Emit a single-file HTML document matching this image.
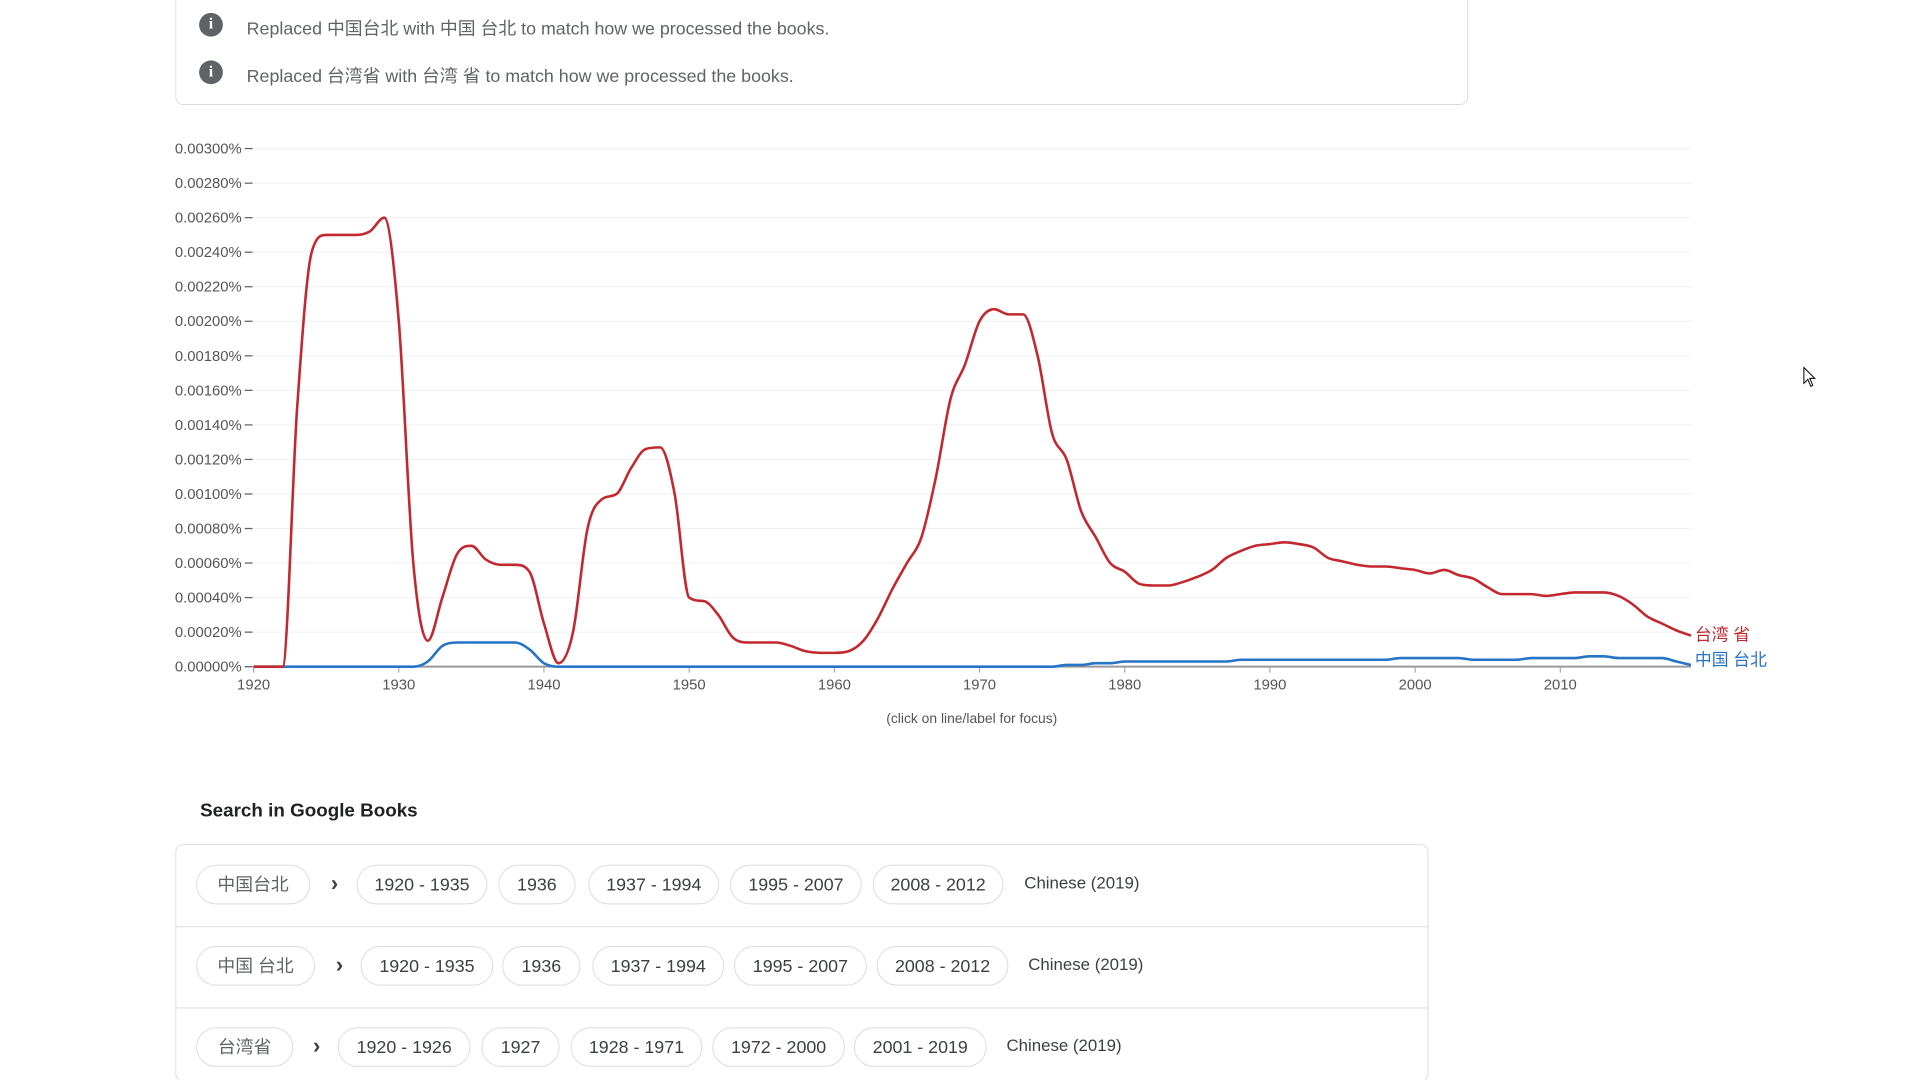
<!DOCTYPE html>
<html style="width:1920px;height:1080px;overflow:hidden"><head><meta charset="utf-8">
<style>
body{margin:0;width:1920px;height:1080px;overflow:hidden;background:#fff;font-family:"Liberation Sans","Noto Sans CJK SC",sans-serif;color:#3c4043;position:relative}
#wrap{position:absolute;left:0;top:0;width:1920px;height:1090px;overflow:hidden;transform:scale(0.9906);transform-origin:0 0}
.abs{position:absolute}
.notice{left:177px;top:-10px;width:1305px;height:116px;border:1px solid #dadce0;border-radius:8px;box-sizing:border-box}
.info{font-size:18px;color:#5f6368;white-space:nowrap}
.icon{width:24px;height:24px;border-radius:50%;background:#5f6368;color:#fff;font-weight:bold;font-size:16px;text-align:center;line-height:24px;font-family:"Liberation Serif",serif}
.table{left:177px;top:852px;width:1265px;height:240px;border:1px solid #dadce0;border-radius:8px;box-sizing:border-box}
.sep{left:178px;width:1263px;height:1px;background:#dadce0}
.pill{height:40px;border:1px solid #dadce0;border-radius:21px;box-sizing:border-box;font-size:18px;line-height:38px;text-align:center;color:#3c4043;white-space:nowrap}
.lang{font-size:17px;color:#3c4043;white-space:nowrap}
.chev{font-size:22px;color:#3c4043;font-weight:bold}
</style></head><body>
<div id="wrap">
<div class="abs notice"></div>
<div class="abs icon" style="left:201px;top:13px">i</div>
<div class="abs info" style="left:249px;top:15px">Replaced 中国台北 with 中国 台北 to match how we processed the books.</div>
<div class="abs icon" style="left:201px;top:61px">i</div>
<div class="abs info" style="left:249px;top:63px">Replaced 台湾省 with 台湾 省 to match how we processed the books.</div>

<svg id="chart" class="abs" style="left:0;top:0" width="1920" height="760"></svg>

<div class="abs" style="left:1820px;top:370px">
<svg width="14" height="22" style="position:absolute;left:0;top:0"><path d="M1 1 L1 17 L5 13 L8 20 L10 19 L7 12 L12 12 Z" fill="#fff" stroke="#000" stroke-width="1"/></svg></div>

<div class="abs" style="left:202px;top:808px;font-size:19px;font-weight:bold;color:#202124">Search in Google Books</div>
<div class="abs table"></div>
<div class="abs sep" style="top:935px"></div>
<div class="abs sep" style="top:1017px"></div>
<div id="rows"></div>
</div>

<script>
const years = [];
for (let y = 1920; y <= 2019; y++) years.push(y);
const taiwanProvince = [0,0,0,150,240,250,250,250,252,260,200,60,15,40,65,70,62,59,59,55,25,2,20,80,97,100,115,126,127,100,40,38,30,17,14,14,14,12,9,8,8,9,15,28,45,60,75,110,155,175,200,207,204,204,180,135,120,90,75,60,55,48,47,47,49,52,56,63,67,70,71,72,71,69,63,61,59,58,58,57,56,54,56,53,51,46,42,42,42,41,42,43,43,43,41,36,29,25,21,18];
const chinaTaipei = [0,0,0,0,0,0,0,0,0,0,0,0,3,12,14,14,14,14,14,10,2,0,0,0,0,0,0,0,0,0,0,0,0,0,0,0,0,0,0,0,0,0,0,0,0,0,0,0,0,0,0,0,0,0,0,0,1,1,2,2,3,3,3,3,3,3,3,3,4,4,4,4,4,4,4,4,4,4,4,5,5,5,5,5,4,4,4,4,5,5,5,5,6,6,5,5,5,5,3,1];
const yTicks = [0,20,40,60,80,100,120,140,160,180,200,220,240,260,280,300];
const xTicks = [1920,1930,1940,1950,1960,1970,1980,1990,2000,2010];
const seriesNames = ["台湾 省","中国 台北"];

const NS = "http://www.w3.org/2000/svg";
const svg = document.getElementById('chart');
const X0 = 256, X1 = 1707, Y0 = 673, Y1 = 150;
const xs = y => X0 + (y - 1920) / 99 * (X1 - X0);
const ys = v => Y0 - v / 300 * (Y0 - Y1);
function mk(tag, attrs){const e=document.createElementNS(NS,tag);for(const k in attrs)e.setAttribute(k,attrs[k]);svg.appendChild(e);return e;}

yTicks.forEach(v=>{
  const g=mk('line',{x1:X0,x2:X1,y1:ys(v),y2:ys(v),stroke:'#f0f0f0','stroke-width':1});
  
  
  const t=mk('text',{x:244,y:ys(v)+5,'text-anchor':'end','font-size':15,fill:'#555','font-family':'Liberation Sans, sans-serif'});
  t.textContent=(v/100000).toFixed(5)+'%';
  
  
  const d=mk('line',{x1:247,x2:255,y1:ys(v),y2:ys(v),stroke:'#666','stroke-width':1.3});
  
  
});
xTicks.forEach(yr=>{
  const t=mk('text',{x:xs(yr),y:696,'text-anchor':'middle','font-size':15,fill:'#555','font-family':'Liberation Sans, sans-serif'});
  t.textContent=yr;
  
  
  const d=mk('line',{x1:xs(yr),x2:xs(yr),y1:Y0,y2:Y0+6,stroke:'#999','stroke-width':1});
  
  
});
const ax=mk('line',{x1:X0,x2:X1,y1:Y0,y2:Y0,stroke:'#999','stroke-width':2});



function smoothPath(vals){
  const p=vals.map((v,i)=>[xs(years[i]),ys(v)]);
  const n=p.length, h=p[1][0]-p[0][0];
  const dl=[];for(let i=0;i<n-1;i++)dl.push((p[i+1][1]-p[i][1])/h);
  const m=new Array(n);
  m[0]=dl[0];m[n-1]=dl[n-2];
  for(let i=1;i<n-1;i++){m[i]=(dl[i-1]*dl[i]<=0)?0:(dl[i-1]+dl[i])/2;}
  for(let i=0;i<n-1;i++){
    if(dl[i]===0){m[i]=0;m[i+1]=0;continue;}
    const a=m[i]/dl[i],b=m[i+1]/dl[i],s=a*a+b*b;
    if(s>9){const t=3/Math.sqrt(s);m[i]=t*a*dl[i];m[i+1]=t*b*dl[i];}
  }
  let d='M'+p[0][0]+' '+p[0][1];
  for(let i=0;i<n-1;i++){
    d+=` C${p[i][0]+h/3} ${p[i][1]+m[i]*h/3} ${p[i+1][0]-h/3} ${p[i+1][1]-m[i+1]*h/3} ${p[i+1][0]} ${p[i+1][1]}`;
  }
  return d;
}
const blue=mk('path',{d:smoothPath(chinaTaipei),fill:'none',stroke:'#2674c6','stroke-width':2.6});


const red=mk('path',{d:smoothPath(taiwanProvince),fill:'none',stroke:'#c3282e','stroke-width':2.6});



const l1=mk('text',{x:1711,y:ys(taiwanProvince[99])+5,'font-size':17,fill:'#c3282e','font-family':'Liberation Sans, Noto Sans CJK SC, sans-serif'});
l1.textContent=seriesNames[0];


const l2=mk('text',{x:1711,y:672,'font-size':17,fill:'#2674c6','font-family':'Liberation Sans, Noto Sans CJK SC, sans-serif'});
l2.textContent=seriesNames[1];


const cap=mk('text',{x:981,y:730,'text-anchor':'middle','font-size':14,fill:'#555','font-family':'Liberation Sans, sans-serif'});
cap.textContent='(click on line/label for focus)';



const rowsData=[
 {top:873,term:['中国台北',198,115],chev:338,pills:[['1920 - 1935',360,132],['1936',503,78],['1937 - 1994',594,132],['1995 - 2007',737,133],['2008 - 2012',881,132]],lang:1034},
 {top:955,term:['中国 台北',198,120],chev:343,pills:[['1920 - 1935',364,134],['1936',507,79],['1937 - 1994',598,133],['1995 - 2007',741,134],['2008 - 2012',885,133]],lang:1038},
 {top:1037,term:['台湾省',198,98],chev:320,pills:[['1920 - 1926',341,134],['1927',486,79],['1928 - 1971',576,133],['1972 - 2000',719,134],['2001 - 2019',862,134]],lang:1016}
];
const rows=document.getElementById('rows');
rowsData.forEach(r=>{
  const t=document.createElement('div');
  t.className='abs pill';t.style.cssText=`left:${r.term[1]}px;top:${r.top}px;width:${r.term[2]}px;color:#5f6368`;
  t.textContent=r.term[0];
  
  
  rows.appendChild(t);
  const c=document.createElement('div');
  c.className='abs chev';c.style.cssText=`left:${r.chev-4}px;top:${r.top+6}px`;c.textContent='›';
  
  
  rows.appendChild(c);
  r.pills.forEach(p=>{
    const e=document.createElement('div');
    e.className='abs pill';e.style.cssText=`left:${p[1]}px;top:${r.top}px;width:${p[2]}px`;
    e.textContent=p[0];
    
    
    rows.appendChild(e);
  });
  const l=document.createElement('div');
  l.className='abs lang';l.style.cssText=`left:${r.lang}px;top:${r.top+9}px`;l.textContent='Chinese (2019)';
  
  
  rows.appendChild(l);
});
</script>
</body></html>
